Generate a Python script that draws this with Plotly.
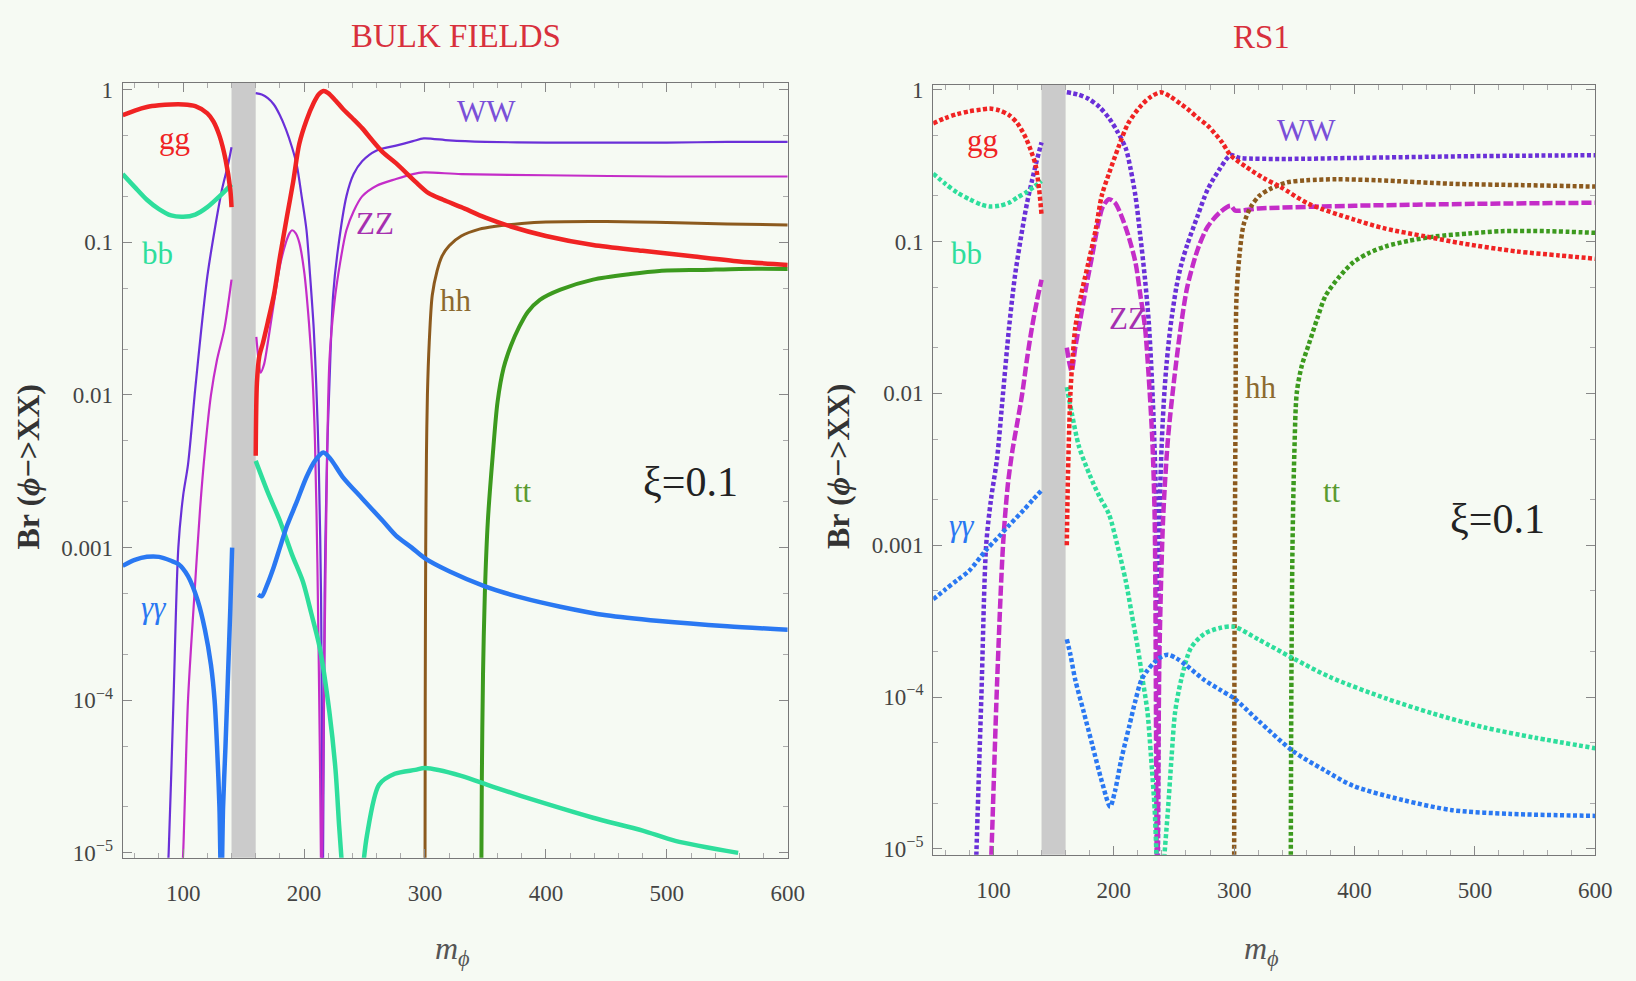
import plotly.graph_objects as go

# ---------------- BULK FIELDS (solid) ----------------
b_gg_xL = [50, 60, 70, 80, 90, 100, 110, 120, 125, 130, 135, 139, 140]
b_gg_yL = [0.68, 0.73, 0.77, 0.79, 0.80, 0.80, 0.78, 0.70, 0.62, 0.50, 0.35, 0.22, 0.17]
b_gg_xR = [160, 161, 163, 166, 170, 175, 180, 186, 191, 196, 202, 208, 212, 216, 220, 226, 232, 240, 248,
           256, 265, 276, 292, 303, 315, 330, 350, 371, 400, 439, 480, 521, 560, 600]
b_gg_yR = [0.004, 0.012, 0.018, 0.022, 0.03, 0.045, 0.08, 0.15, 0.25, 0.44, 0.63, 0.82, 0.93, 0.98, 0.95, 0.85,
           0.75, 0.65, 0.56, 0.47, 0.39, 0.33, 0.25, 0.21, 0.19, 0.17, 0.145, 0.127, 0.11, 0.096, 0.088, 0.081,
           0.075, 0.071]

b_bb_xL = [50, 60, 70, 80, 90, 100, 110, 120, 130, 140]
b_bb_yL = [0.28, 0.23, 0.19, 0.165, 0.15, 0.147, 0.152, 0.17, 0.2, 0.24]
b_bb_xR = [160, 170, 180, 190, 199, 206, 213, 221, 226, 229, 232, None, 248, 252, 262, 275, 292, 300, 330,
           357, 400, 439, 480, 507, 559]
b_bb_yR = [0.0037, 0.0023, 0.0015, 0.0009, 0.0006, 0.00037, 0.00022, 8.3e-5, 3.5e-5, 1.5e-5, 7e-6, None,
           7e-6, 1.3e-5, 2.8e-5, 3.3e-5, 3.5e-5, 3.6e-5, 3.2e-5, 2.7e-5, 2.1e-5, 1.7e-5, 1.4e-5, 1.2e-5, 1.0e-5]

b_aa_xL = [50, 60, 70, 80, 90, 96, 104, 112, 118, 123, 126, 128, 130, 131.5, 133, 135, 137, 139, 140.5]
b_aa_yL = [7.6e-4, 8.3e-4, 8.7e-4, 8.7e-4, 8.2e-4, 7.8e-4, 6.5e-4, 4.5e-4, 2.9e-4, 1.7e-4, 1.0e-4, 5e-5,
           2.0e-5, 5e-6, 2e-5, 5e-5, 1.4e-4, 4e-4, 1.0e-3]
b_aa_xR = [162, 165, 169, 175, 180, 186, 194, 202, 209, 216, 222, 232, 248, 265, 276, 289, 300, 320, 349,
           380, 412, 450, 494, 550, 600]
b_aa_yR = [4.9e-4, 4.8e-4, 5.6e-4, 7.5e-4, 1.0e-3, 1.4e-3, 2.0e-3, 2.9e-3, 3.7e-3, 4.2e-3, 3.8e-3, 2.9e-3,
           2.1e-3, 1.5e-3, 1.2e-3, 1.0e-3, 8.5e-4, 7e-4, 5.6e-4, 4.7e-4, 4.1e-4, 3.6e-4, 3.3e-4, 3.05e-4, 2.9e-4]

b_ww_xL = [86, 88, 92, 96, 100, 104, 110, 115, 120, 126, 132, 137, 140]
b_ww_yL = [5e-6, 1e-5, 1e-4, 1e-3, 0.0022, 0.0035, 0.011, 0.027, 0.06, 0.12, 0.22, 0.32, 0.42]
b_ww_xR = [160, 165, 170, 175, 180, 185, 190, 194, 198, 202, 205, 208, 210, 212, 214, 215.5, 217, 219, 221,
           224, 228, 235, 241, 248, 260, 276, 290, 299, 320, 350, 400, 450, 500, 550, 600]
b_ww_yR = [0.95, 0.93, 0.88, 0.8, 0.68, 0.55, 0.42, 0.32, 0.2, 0.12, 0.06, 0.027, 0.012, 0.004, 5e-4, 5e-6,
           5e-4, 0.004, 0.012, 0.045, 0.09, 0.2, 0.28, 0.34, 0.40, 0.43, 0.46, 0.48, 0.465, 0.455, 0.45, 0.45,
           0.45, 0.455, 0.455]

b_zz_xL = [98, 100, 104, 109, 114, 118, 123, 128, 134, 140]
b_zz_yL = [5e-6, 1e-5, 1e-4, 4.5e-4, 0.0018, 0.0043, 0.01, 0.017, 0.027, 0.057]
b_zz_xR = [160.5, 162, 164, 167, 170, 175, 180, 185, 188, 190, 193, 196, 200, 204, 207, 209, 211, 213, 214.5,
           216, 218, 221, 225, 230, 235, 241, 248, 260, 276, 290, 299, 330, 400, 500, 600]
b_zz_yR = [0.024, 0.018, 0.014, 0.016, 0.022, 0.04, 0.07, 0.1, 0.115, 0.12, 0.115, 0.1, 0.065, 0.03, 0.013,
           0.005, 0.0008, 5e-5, 5e-6, 5e-5, 0.001, 0.017, 0.04, 0.075, 0.12, 0.16, 0.2, 0.235, 0.26, 0.28,
           0.287, 0.28, 0.275, 0.27, 0.27]

b_hh_x = [300, 300.2, 300.6, 301.2, 302, 303.5, 306, 310, 314, 320, 330, 345, 357, 380, 400, 450, 500, 550, 600]
b_hh_y = [5e-6, 1e-4, 0.001, 0.004, 0.01, 0.022, 0.045, 0.065, 0.081, 0.095, 0.11, 0.122, 0.127, 0.133,
          0.136, 0.137, 0.135, 0.132, 0.13]

b_tt_x = [346.5, 347, 348, 349.5, 352, 356, 360, 365, 371, 378, 385, 395, 412, 439, 470, 494, 530, 560, 600]
b_tt_y = [5e-6, 3e-5, 1.5e-4, 5e-4, 0.0015, 0.004, 0.009, 0.015, 0.021, 0.028, 0.035, 0.042, 0.049, 0.057,
          0.062, 0.065, 0.066, 0.067, 0.067]

# ---------------- RS1 (dotted / dashed) ----------------
r_gg_xL = [50, 60, 70, 80, 90, 97, 105, 113, 120, 127, 131, 135, 138, 140]
r_gg_yL = [0.6, 0.65, 0.69, 0.72, 0.74, 0.75, 0.73, 0.68, 0.6, 0.48, 0.4, 0.32, 0.22, 0.15]
r_gg_xR = [161, 162, 164, 166, 168, 173, 179, 185, 190, 196, 204, 212, 223, 231, 239, 247, 256, 261, 270,
           278, 290, 297, 310, 325, 338, 362, 399, 425, 459, 490, 535, 570, 600]
r_gg_yR = [0.001, 0.003, 0.01, 0.018, 0.027, 0.045, 0.073, 0.12, 0.2, 0.28, 0.42, 0.6, 0.79, 0.9, 0.96, 0.9,
           0.8, 0.75, 0.65, 0.58, 0.45, 0.37, 0.31, 0.26, 0.23, 0.177, 0.14, 0.122, 0.108, 0.097, 0.086,
           0.081, 0.077]

r_bb_xL = [50, 60, 70, 80, 90, 97, 105, 113, 120, 127, 134, 140]
r_bb_yL = [0.28, 0.24, 0.21, 0.19, 0.175, 0.17, 0.172, 0.18, 0.195, 0.21, 0.23, 0.25]
r_bb_xR = [161, 165, 171, 180, 188, 196, 203, 210, 215, 220, 224, 228, 231, 234, 236, 238, 241, 245, 248,
           251, 256, 264, 275, 288, 300, 320, 349, 380, 426, 465, 508, 550, 600]
r_bb_yR = [0.011, 0.0075, 0.0045, 0.0029, 0.0021, 0.0016, 0.001, 5.8e-4, 3.5e-4, 2.1e-4, 1.3e-4, 8e-5, 4e-5,
           1.8e-5, 7e-6, 3e-6, 7e-6, 1.8e-5, 4e-5, 8e-5, 1.3e-4, 2.1e-4, 2.6e-4, 2.85e-4, 2.9e-4, 2.4e-4,
           1.8e-4, 1.35e-4, 9.8e-5, 7.8e-5, 6.3e-5, 5.4e-5, 4.6e-5]

r_aa_xL = [50, 60, 70, 80, 94, 105, 113, 125, 133, 140]
r_aa_yL = [4.4e-4, 5.1e-4, 5.9e-4, 6.8e-4, 9.3e-4, 1.15e-3, 1.35e-3, 1.7e-3, 2.0e-3, 2.3e-3]
r_aa_xR = [161, 164, 168, 175, 182, 190, 197, 201, 206, 213, 218, 223, 228, 234, 240, 245, 252, 261, 275,
           288, 300, 320, 349, 375, 399, 440, 481, 530, 600]
r_aa_yR = [2.4e-4, 1.9e-4, 1.3e-4, 8e-5, 4.9e-5, 2.8e-5, 1.9e-5, 2.4e-5, 3.8e-5, 6.5e-5, 9.5e-5, 1.3e-4,
           1.5e-4, 1.7e-4, 1.85e-4, 1.9e-4, 1.8e-4, 1.6e-4, 1.3e-4, 1.12e-4, 9.8e-5, 7e-5, 4.4e-5, 3.3e-5,
           2.6e-5, 2.1e-5, 1.8e-5, 1.7e-5, 1.65e-5]

r_ww_xL = [85, 86, 90, 94, 98, 103, 108, 113, 118, 124, 128, 132, 136, 140]
r_ww_yL = [5e-6, 1e-5, 1e-4, 1e-3, 0.002, 0.0037, 0.01, 0.027, 0.06, 0.12, 0.18, 0.25, 0.34, 0.45]
r_ww_xR = [161, 170, 179, 188, 196, 203, 210, 214, 218, 222, 226, 229, 231, 233, 235, 236.5, 238, 240, 242,
           244, 247, 252, 256, 261, 270, 278, 288, 297, 305, 344, 400, 500, 600]
r_ww_yR = [0.96, 0.93, 0.87, 0.77, 0.65, 0.53, 0.41, 0.3, 0.2, 0.11, 0.056, 0.03, 0.016, 0.007, 0.002, 5e-6,
           0.0015, 0.005, 0.01, 0.016, 0.027, 0.05, 0.07, 0.095, 0.15, 0.22, 0.3, 0.37, 0.355, 0.35, 0.355,
           0.365, 0.37]

r_zz_xL = [97, 98.5, 103, 108, 112, 116, 120, 124, 128, 132, 136, 140]
r_zz_yL = [5e-6, 1e-5, 1.2e-4, 1e-3, 0.0025, 0.0043, 0.0065, 0.01, 0.017, 0.027, 0.04, 0.056]
r_zz_xR = [161, 163, 165, 168, 172, 177, 182, 187, 191, 196, 201, 206, 212, 218, 222, 226, 229, 232, 234,
           236, 238, 241, 245, 250, 255, 261, 270, 278, 288, 297, 301, 320, 400, 500, 600]
r_zz_yR = [0.02, 0.016, 0.014, 0.02, 0.03, 0.05, 0.08, 0.13, 0.17, 0.19, 0.18, 0.15, 0.11, 0.073, 0.045,
           0.027, 0.013, 0.005, 0.0015, 5e-6, 2e-4, 0.0015, 0.005, 0.012, 0.025, 0.05, 0.09, 0.125, 0.155,
           0.172, 0.16, 0.165, 0.172, 0.177, 0.18]

r_hh_x = [300, 300.2, 300.6, 301.2, 302, 305, 308, 314, 321, 330, 344, 360, 385, 420, 481, 540, 600]
r_hh_y = [5e-6, 1e-4, 1e-3, 0.008, 0.044, 0.09, 0.13, 0.17, 0.2, 0.222, 0.245, 0.253, 0.257, 0.253, 0.24,
          0.235, 0.23]

r_tt_x = [347, 347.5, 348.5, 350, 352, 356, 362, 369, 376, 387, 399, 412, 426, 445, 467, 495, 522, 560, 600]
r_tt_y = [5e-6, 1e-4, 1e-3, 0.004, 0.01, 0.015, 0.021, 0.031, 0.044, 0.058, 0.073, 0.084, 0.093, 0.101,
          0.108, 0.113, 0.117, 0.117, 0.114]

# tick labels
x_ticks = [100, 200, 300, 400, 500, 600]
y_tickvals = [1, 0.1, 0.01, 0.001, 1e-4, 1e-5]
y_ticktext = ["1", "0.1", "0.01", "0.001", "10<sup>\u22124</sup>", "10<sup>\u22125</sup>"]

# ---------------- style ----------------
C_GG = "#f02323"
C_BB = "#2ede9c"
C_AA = "#2a78f2"
C_WW = "#6a30d8"
C_ZZ = "#c42dc8"
C_HH = "#8c5a1e"
C_TT = "#3c9a1e"
BG = "#f6faf3"
FONT = "Liberation Serif"


def join(xl, yl, xr, yr):
    return list(xl) + [None] + list(xr), list(yl) + [None] + list(yr)


fig = go.Figure()


def add(x, y, color, width, dash, ax):
    fig.add_trace(go.Scatter(x=x, y=y, mode="lines", xaxis="x" + ax, yaxis="y" + ax,
                             line=dict(color=color, width=width, dash=dash, shape="spline", smoothing=0.8),
                             connectgaps=False, showlegend=False, hoverinfo="skip"))


# bulk panel (axis "" -> x, y)
add(*join(b_ww_xL, b_ww_yL, b_ww_xR, b_ww_yR), C_WW, 2.2, "solid", "")
add(*join(b_zz_xL, b_zz_yL, b_zz_xR, b_zz_yR), C_ZZ, 2.2, "solid", "")
add(b_hh_x, b_hh_y, C_HH, 3, "solid", "")
add(b_tt_x, b_tt_y, C_TT, 4, "solid", "")
add(*join(b_bb_xL, b_bb_yL, b_bb_xR, b_bb_yR), C_BB, 4.5, "solid", "")
add(*join(b_aa_xL, b_aa_yL, b_aa_xR, b_aa_yR), C_AA, 4.5, "solid", "")
add(*join(b_gg_xL, b_gg_yL, b_gg_xR, b_gg_yR), C_GG, 4.5, "solid", "")

# RS1 panel (axis "2")
DOT = "4px,2.5px"
add(*join(r_ww_xL, r_ww_yL, r_ww_xR, r_ww_yR), C_WW, 4.5, DOT, "2")
add(*join(r_zz_xL, r_zz_yL, r_zz_xR, r_zz_yR), C_ZZ, 4.5, "10px,3px", "2")
add(r_hh_x, r_hh_y, C_HH, 4.5, DOT, "2")
add(r_tt_x, r_tt_y, C_TT, 4.5, DOT, "2")
add(*join(r_bb_xL, r_bb_yL, r_bb_xR, r_bb_yR), C_BB, 4.5, DOT, "2")
add(*join(r_aa_xL, r_aa_yL, r_aa_xR, r_aa_yR), C_AA, 4.5, DOT, "2")
add(*join(r_gg_xL, r_gg_yL, r_gg_xR, r_gg_yR), C_GG, 4.5, DOT, "2")

W, H = 1636, 981


def xaxis(dom, anchor):
    return dict(domain=dom, anchor=anchor, range=[50, 600], tickvals=x_ticks,
                ticks="inside", ticklen=9, tickcolor="#888", tickwidth=1,
                minor=dict(dtick=20, ticks="inside", ticklen=5, tickcolor="#aaa"),
                showline=True, linecolor="#777", linewidth=1.3, mirror="allticks",
                showgrid=False, zeroline=False, ticklabelstandoff=14,
                tickfont=dict(family=FONT, size=23, color="#444"))


def yaxis(dom, anchor, rng):
    return dict(domain=dom, anchor=anchor, type="log", range=rng,
                tickvals=y_tickvals, ticktext=y_ticktext,
                ticks="inside", ticklen=9, tickcolor="#888", tickwidth=1,
                minor=dict(ticks="inside", ticklen=5, tickcolor="#aaa", showgrid=False),
                showline=True, linecolor="#777", linewidth=1.3, mirror="allticks",
                showgrid=False, zeroline=False, ticklabelstandoff=4,
                tickfont=dict(family=FONT, size=23, color="#444"))


fig.update_layout(
    width=W, height=H, margin=dict(l=0, r=0, t=0, b=0),
    paper_bgcolor=BG, plot_bgcolor=BG,
    xaxis=xaxis([124 / W, 796 / W], "y"),
    yaxis=yaxis([1 - 864 / H, 1 - 77 / H], "x", [-5.032, 0.045]),
    xaxis2=xaxis([943 / W, 1612 / W], "y2"),
    yaxis2=yaxis([1 - 861 / H, 1 - 79 / H], "x2", [-5.039, 0.032]),
)

# excluded mass bands
for ax in ["", "2"]:
    fig.add_shape(type="rect", xref="x" + ax, yref="y" + ax + " domain", x0=140, x1=160, y0=0, y1=1,
                  fillcolor="#cbcbcb", line=dict(width=0), layer="below")


def txt(px, py, s, color, size, **kw):
    fig.add_annotation(x=px / W, y=1 - py / H, xref="paper", yref="paper", text=s, showarrow=False,
                       xanchor="center", yanchor="middle",
                       font=dict(family=FONT, size=size, color=color), **kw)


# titles
txt(461, 29, "BULK FIELDS", "#d8303c", 33)
txt(1275, 30, "RS1", "#d8303c", 33)

# series labels - bulk
txt(176, 134, "gg", C_GG, 31)
txt(159, 250, "bb", C_BB, 31)
txt(155, 610, "<i>\u03b3\u03b3</i>", C_AA, 31)
txt(492, 106, "WW", "#7a4fd8", 31)
txt(379, 220, "ZZ", "#a630b0", 31)
txt(461, 298, "hh", "#8c6a30", 31)
txt(528, 492, "tt", "#5a9a30", 31)
txt(698, 482, "\u03be=0.1", "#222", 42)

# series labels - RS1
txt(993, 136, "gg", C_GG, 31)
txt(977, 250, "bb", C_BB, 31)
txt(972, 527, "<i>\u03b3\u03b3</i>", C_AA, 31)
txt(1320, 125, "WW", "#7a4fd8", 31)
txt(1140, 316, "ZZ", "#a630b0", 31)
txt(1274, 386, "hh", "#8c6a30", 31)
txt(1346, 492, "tt", "#5a9a30", 31)
txt(1513, 520, "\u03be=0.1", "#222", 42)

# axis titles
for xc in (28, 847):
    txt(xc, 467, "<b>Br (<i>\u03d5</i>\u2212&gt;XX)</b>", "#333", 32, textangle=-90)
for xc in (457, 1275):
    txt(xc, 958, "<i>m</i><sub><i>\u03d5</i></sub>", "#555", 32)

fig.write_html("out.html")
